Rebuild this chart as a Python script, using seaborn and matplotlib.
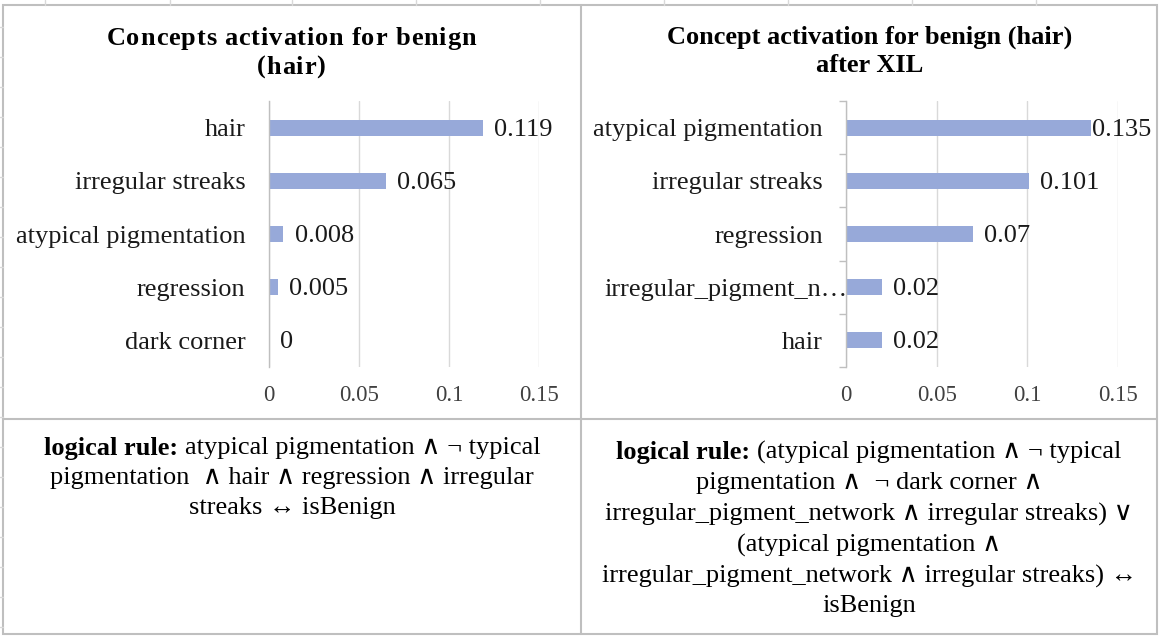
"""Concept activation bars for the benign (hair) case, before / after XIL, laid out like the spreadsheet cells."""
import numpy as np
import pandas as pd
import matplotlib
matplotlib.use('Agg')
import matplotlib.pyplot as plt
import seaborn as sns
from matplotlib.lines import Line2D
from matplotlib.patches import Rectangle
from matplotlib.transforms import ScaledTranslation
from matplotlib.font_manager import findfont, FontProperties
from matplotlib.ft2font import FT2Font

# data
LEFT_TITLE = ['Concepts activation for benign', '(hair)']
LEFT_CONCEPTS = ['hair', 'irregular streaks', 'atypical pigmentation', 'regression', 'dark corner']
LEFT_VALUES = [0.119, 0.065, 0.008, 0.005, 0]

RIGHT_TITLE = ['Concept activation for benign (hair)', 'after XIL']
RIGHT_CONCEPTS = ['atypical pigmentation', 'irregular streaks', 'regression',
                  'irregular_pigment_n…', 'hair']
RIGHT_VALUES = [0.135, 0.101, 0.07, 0.02, 0.02]

X_TICKS = [0, 0.05, 0.1, 0.15]
X_TICK_LABELS = ['0', '0.05', '0.1', '0.15']

LEFT_RULE = [
    ('logical rule:', 'atypical pigmentation ∧ ¬ typical'),
    ('', 'pigmentation  ∧ hair ∧ regression ∧ irregular'),
    ('', 'streaks ↔ isBenign'),
]
RIGHT_RULE = [
    ('logical rule:', '(atypical pigmentation ∧ ¬ typical'),
    ('', 'pigmentation ∧  ¬ dark corner ∧'),
    ('', 'irregular_pigment_network ∧ irregular streaks) ∨'),
    ('', '(atypical pigmentation ∧'),
    ('', 'irregular_pigment_network ∧ irregular streaks) ↔'),
    ('', 'isBenign'),
]

BAR = '#97a9d9'
GRID = '#d9d9d9'
BORDER = '#bfbfbf'
TEXT = '#1a1a1a'
TICK = '#404040'

W, H = 1160, 636
LABEL_SIZE = 19
TICK_SIZE = 16.5
TITLE_SIZE = 19
RULE_SIZE = 19
SERIF = 'Liberation Serif'

sns.set_theme(style='white')
plt.rcParams['font.family'] = [SERIF, 'DejaVu Serif']

fig = plt.figure(figsize=(W / 100, H / 100), dpi=100)
fig.patch.set_facecolor('white')


def fx(px):
    return px / W


def fy(py):
    return 1 - py / H


# spreadsheet grid peeking out around the cells
for gx in [45, 170, 292, 416, 540, 664, 788, 912, 1036]:
    fig.add_artist(Line2D([fx(gx), fx(gx)], [fy(0), fy(5)], color=GRID, lw=1))
for gy in range(27, 636, 30):
    fig.add_artist(Line2D([fx(0), fx(3)], [fy(gy), fy(gy)], color=GRID, lw=1))

# cell borders
fig.add_artist(Rectangle((fx(3), fy(634)), fx(1157) - fx(3), fy(5) - fy(634),
                         transform=fig.transFigure, fill=False, ec=BORDER, lw=1.5))
fig.add_artist(Line2D([fx(581), fx(581)], [fy(5), fy(634)], color=BORDER, lw=1.5))
fig.add_artist(Line2D([fx(3), fx(1157)], [fy(419), fy(419)], color=BORDER, lw=1.5))


def tracked_title(cx, py, s, track):
    """Bold title line with a little extra letter spacing (px)."""
    font = FT2Font(findfont(FontProperties(family=SERIF, weight='bold')), hinting_factor=1)
    font.set_size(TITLE_SIZE, 100)
    adv = [font.load_char(ord(c)).linearHoriAdvance / 65536 for c in s]
    x = cx - (sum(adv) + track * (len(s) - 1)) / 2
    for c, a in zip(s, adv):
        if c != ' ':
            fig.text(fx(x), fy(py), c, ha='left', va='baseline', fontsize=TITLE_SIZE,
                     fontweight='bold', color='black', family=SERIF)
        x += a + track


def draw_chart(x0, x1, concepts, values, boundary_ticks):
    ax = fig.add_axes([fx(x0), fy(367), fx(x1) - fx(x0), fy(101) - fy(367)])
    df = pd.DataFrame({'concept': concepts, 'value': values})
    sns.barplot(data=df, x='value', y='concept', color=BAR, saturation=1,
                width=0.3, linewidth=0, ax=ax)
    ax.set_xlim(0, 0.15)
    ax.set_ylim(len(concepts) - 0.5, -0.5)
    ax.set_xticks(X_TICKS, X_TICK_LABELS)
    ax.set_xlabel('')
    ax.set_ylabel('')
    ax.set_facecolor('none')
    ax.grid(axis='x', color=GRID, lw=1)
    ax.grid(axis='y', visible=False)
    ax.set_axisbelow(True)
    for s in ['top', 'right', 'bottom']:
        ax.spines[s].set_visible(False)
    ax.spines['left'].set_color(BORDER)
    ax.spines['left'].set_linewidth(1)
    ax.tick_params(axis='x', length=0, pad=13, labelsize=TICK_SIZE, labelcolor=TICK)
    if boundary_ticks:
        ax.set_yticks(np.arange(len(concepts) + 1) - 0.5, minor=True)
        ax.tick_params(axis='y', which='minor', left=True, length=5, width=1, color=BORDER)
        ax.tick_params(axis='y', which='major', length=0, pad=16.5,
                       labelsize=LABEL_SIZE, labelcolor=TEXT)
    else:
        ax.tick_params(axis='y', length=0, pad=17, labelsize=LABEL_SIZE, labelcolor=TEXT)
    anns = ax.bar_label(ax.containers[0], labels=[f'{v:g}' for v in values],
                        padding=8, fontsize=LABEL_SIZE, color=TEXT)
    for a in anns:
        a.xyann = (8, -1.5)
    return ax, anns


draw_chart(269, 539, LEFT_CONCEPTS, LEFT_VALUES, False)
ax_r, anns_r = draw_chart(846, 1118, RIGHT_CONCEPTS, RIGHT_VALUES, True)
# the longest bar's label sits right against the bar end
anns_r[0].xyann = (1, -1.5)
# truncated label runs up to the axis, as in the spreadsheet
trunc = ax_r.get_yticklabels()[3]
trunc.set_transform(trunc.get_transform() + ScaledTranslation(0.24, 0, fig.dpi_scale_trans))

# titles: left one is letter-spaced, right one is plain
tracked_title(291, 45, LEFT_TITLE[0], 1.0)
tracked_title(291, 74, LEFT_TITLE[1], 1.0)
for line, py in zip(RIGHT_TITLE, [37, 66]):
    fig.text(fx(870), fy(py), line, ha='center', va='center',
             fontsize=TITLE_SIZE, fontweight='bold', color='black')

renderer = fig.canvas.get_renderer()


def rule_text(lines, cx, ys):
    space = RULE_SIZE * 100 / 72 * 0.25
    for (bold, rest), py in zip(lines, ys):
        tb = fig.text(0, fy(py), bold, fontsize=RULE_SIZE, fontweight='bold',
                      color='black', va='center')
        tr = fig.text(0, fy(py), rest, fontsize=RULE_SIZE, color='black', va='center')
        wb = tb.get_window_extent(renderer).width + space if bold else 0
        wr = tr.get_window_extent(renderer).width
        left = cx - (wb + wr) / 2
        tb.set_x(fx(left))
        tr.set_x(fx(left + wb))


rule_text(LEFT_RULE, 292, [448, 478, 508])
rule_text(RIGHT_RULE, 869, [452, 483, 514, 545, 576, 606])

fig.savefig('out.png', dpi=100)
